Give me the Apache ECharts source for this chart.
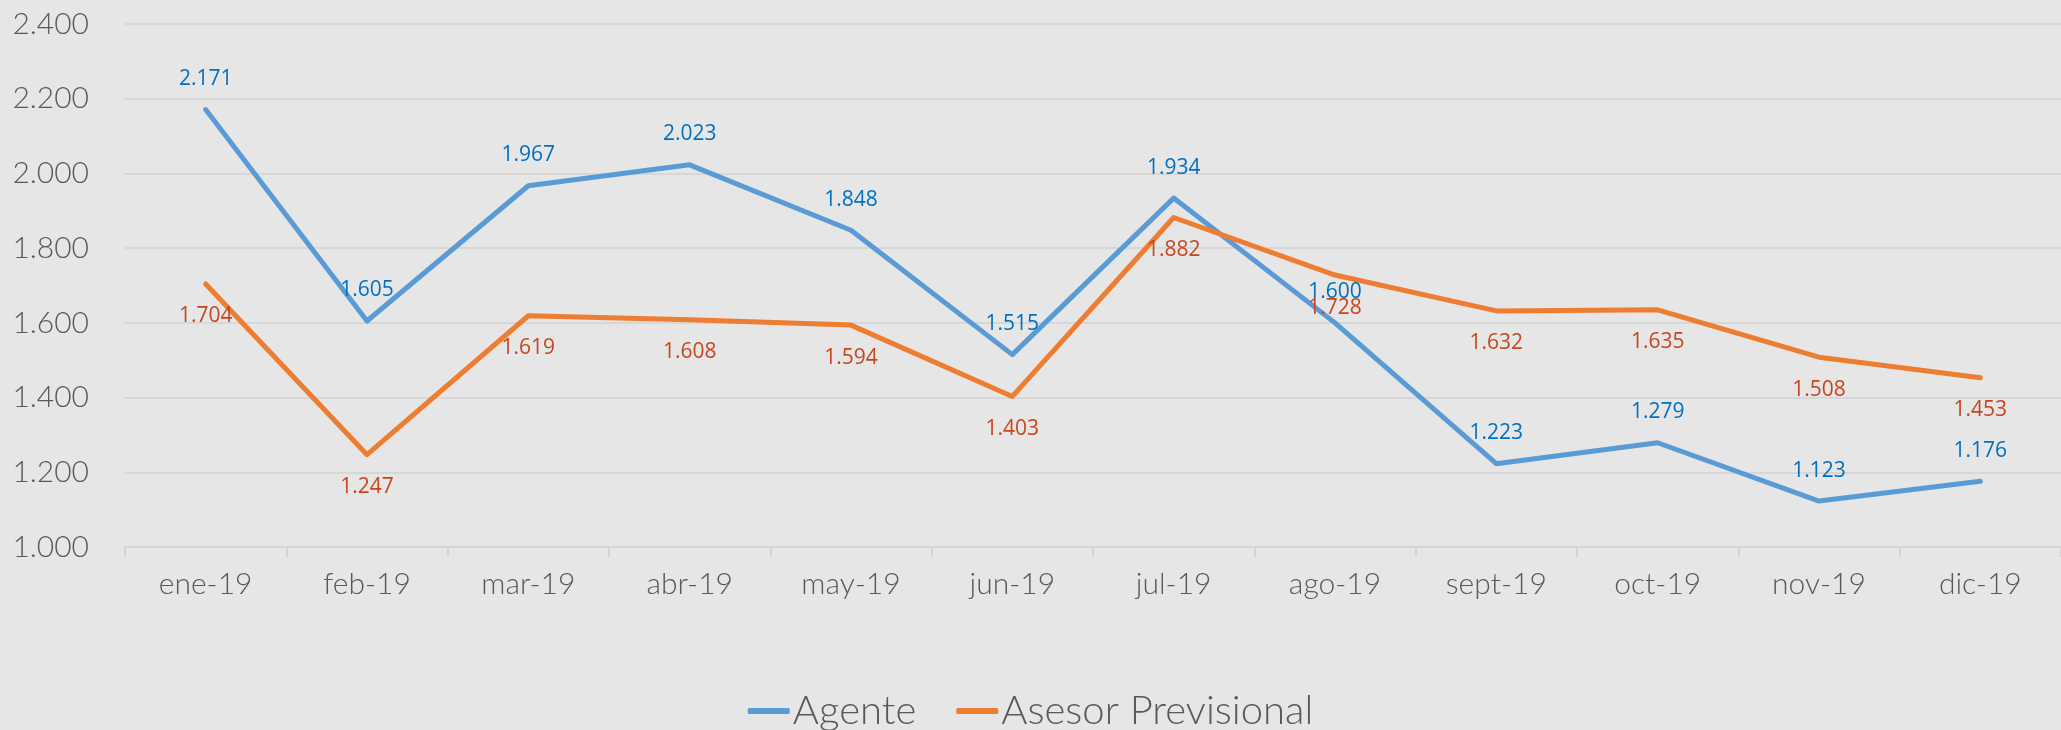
<!DOCTYPE html>
<html>
<head>
<meta charset="utf-8">
<script src="https://cdn.jsdelivr.net/npm/echarts@6/dist/echarts.min.js"></script>
<style>
  html, body { margin: 0; padding: 0; background: #e6e6e6; }
  #chart { width: 2061px; height: 730px; }
</style>
</head>
<body>
<div id="chart"></div>
<script>
var meses = ['ene-19','feb-19','mar-19','abr-19','may-19','jun-19','jul-19','ago-19','sept-19','oct-19','nov-19','dic-19'];
var agente = [2171, 1605, 1967, 2023, 1848, 1515, 1934, 1600, 1223, 1279, 1123, 1176];
var asesor = [1704, 1247, 1619, 1608, 1594, 1403, 1882, 1728, 1632, 1635, 1508, 1453];

function miles(v){ // 2171 -> "2.171"
  var s = String(Math.round(v));
  return s.length > 3 ? s.slice(0, s.length - 3) + '.' + s.slice(-3) : s;
}

var chart = echarts.init(document.getElementById('chart'));
chart.setOption({
  backgroundColor: '#e6e6e6',
  animation: false,
  grid: { left: 125, right: 0, top: 24, bottom: 183 },
  legend: {
    bottom: -6,
    left: 'center',
    itemWidth: 42,
    itemHeight: 6,
    itemGap: 40,
    textStyle: { fontFamily: 'Lato', fontSize: 40, fontWeight: 300, color: '#595959', padding: [0, 0, 0, -2] },
    data: [
      { name: 'Agente', icon: 'roundRect' },
      { name: 'Asesor Previsional', icon: 'roundRect' }
    ]
  },
  xAxis: {
    type: 'category',
    data: meses,
    boundaryGap: true,
    axisLine: { lineStyle: { color: '#d4d4d4', width: 2 } },
    axisTick: { show: true, length: 10, lineStyle: { color: '#d4d4d4', width: 2 } },
    axisLabel: { fontFamily: 'Lato', fontSize: 30, fontWeight: 300, color: '#595959', margin: 22 }
  },
  yAxis: {
    type: 'value',
    min: 1000,
    max: 2400,
    interval: 200,
    axisLine: { show: false },
    axisTick: { show: false },
    splitLine: { lineStyle: { color: '#d7d7d7', width: 2 } },
    axisLabel: { fontFamily: 'Lato', fontSize: 30, fontWeight: 300, color: '#595959', margin: 36, formatter: miles }
  },
  series: [
    {
      name: 'Agente',
      type: 'line',
      data: agente,
      color: '#5b9bd5',
      symbol: 'circle',
      symbolSize: 0,
      lineStyle: { width: 5, cap: 'round', join: 'round' },
      label: {
        show: true, position: 'top', distance: 20,
        fontFamily: 'Open Sans', fontSize: 21, color: '#0070c0',
        formatter: function(p){ return miles(p.value); }
      }
    },
    {
      name: 'Asesor Previsional',
      type: 'line',
      data: asesor,
      color: '#ed7d31',
      symbol: 'circle',
      symbolSize: 0,
      lineStyle: { width: 5, cap: 'round', join: 'round' },
      label: {
        show: true, position: 'bottom', distance: 22,
        fontFamily: 'Open Sans', fontSize: 21, color: '#c8461e',
        formatter: function(p){ return miles(p.value); }
      }
    }
  ]
});
</script>
</body>
</html>
